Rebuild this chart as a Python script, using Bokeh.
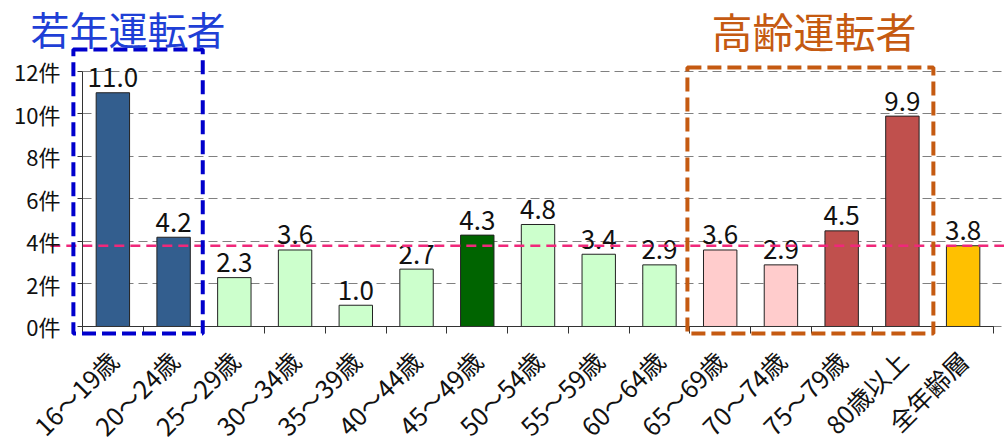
import math
from bokeh.plotting import figure
from bokeh.models import (Range1d, FixedTicker, BoxAnnotation, Label,
                          ColumnDataSource)
from bokeh.core.properties import value
from bokeh.embed import file_html
from bokeh.resources import INLINE

# ---------------- data ----------------
categories = ["16～19歳", "20～24歳", "25～29歳", "30～34歳", "35～39歳",
              "40～44歳", "45～49歳", "50～54歳", "55～59歳", "60～64歳",
              "65～69歳", "70～74歳", "75～79歳", "80歳以上", "全年齢層"]
values = [11.0, 4.2, 2.3, 3.6, 1.0, 2.7, 4.3, 4.8, 3.4, 2.9,
          3.6, 2.9, 4.5, 9.9, 3.8]
bar_colors = ["#335E8E", "#335E8E", "#CCFFCC", "#CCFFCC", "#CCFFCC",
              "#CCFFCC", "#006400", "#CCFFCC", "#CCFFCC", "#CCFFCC",
              "#FFCCCC", "#FFCCCC", "#C0504D", "#C0504D", "#FFC000"]
y_ticks = [0, 2, 4, 6, 8, 10, 12]
y_tick_labels = ["0件", "2件", "4件", "6件", "8件", "10件", "12件"]
average_all = 3.8
young_title = "若年運転者"
young_first, young_last = 0, 1
elderly_title = "高齢運転者"
elderly_first, elderly_last = 10, 13

FONT = "Noto Sans CJK JP"
n = len(categories)
xs = list(range(n))
src = ColumnDataSource(dict(x=xs, top=values, color=bar_colors,
                            label=[f"{v:.1f}" for v in values]))

X0, X1 = -1.8502, 14.6811
p = figure(width=1004, height=444,
           x_range=Range1d(X0, X1),
           y_range=Range1d(-5.553, 15.341),
           output_backend="svg", toolbar_location=None,
           min_border_left=0, min_border_right=0,
           min_border_top=0, min_border_bottom=0)
p.outline_line_color = None
p.background_fill_color = "white"

# grid
p.xgrid.visible = False
p.ygrid.ticker = FixedTicker(ticks=y_ticks)
p.ygrid.cross_bounds = (-0.5, X1)
p.ygrid.grid_line_color = "#808080"
p.ygrid.grid_line_dash = "9 5"
p.ygrid.grid_line_width = 1

# y axis
p.yaxis.fixed_location = -0.5
p.yaxis.ticker = FixedTicker(ticks=y_ticks)
p.yaxis.major_label_overrides = {t: l for t, l in zip(y_ticks, y_tick_labels)}
p.yaxis.bounds = (y_ticks[0], y_ticks[-1])
p.yaxis.major_tick_out = 5
p.yaxis.major_tick_in = 0
p.yaxis.minor_tick_line_color = None
p.yaxis.major_label_standoff = 17
p.yaxis.major_label_text_font = FONT
p.yaxis.major_label_text_font_size = "22px"
p.yaxis.major_label_text_color = "#111111"
p.yaxis.axis_line_color = "#333333"
p.yaxis.major_tick_line_color = "#333333"

# x axis
p.xaxis.fixed_location = 0
p.xaxis.bounds = (-0.5, n - 0.5)
p.xaxis.ticker = FixedTicker(ticks=xs, minor_ticks=[i - 0.5 for i in range(n + 1)])
p.xaxis.major_label_overrides = {i: c for i, c in zip(xs, categories)}
p.xaxis.major_label_orientation = math.pi / 4
p.xaxis.major_tick_line_color = None
p.xaxis.major_tick_out = 0
p.xaxis.major_tick_in = 0
p.xaxis.minor_tick_out = 7
p.xaxis.minor_tick_in = 0
p.xaxis.minor_tick_line_color = "#333333"
p.xaxis.axis_line_color = "#333333"
p.xaxis.major_label_standoff = 22
p.xaxis.major_label_text_font = FONT
p.xaxis.major_label_text_font_size = "25px"
p.xaxis.major_label_text_color = "#111111"

# bars
p.vbar(x="x", top="top", width=0.55, fill_color="color", line_color="#222222",
       line_width=1, source=src)

# value labels
p.text(x="x", y="top", text="label", source=src, text_align="center",
       text_baseline="alphabetic", y_offset=-15,
       text_font=value(FONT), text_font_size="26px", text_color="#111111")

# average line
p.segment(x0=[-1.03], x1=[X1], y0=[average_all], y1=[average_all],
          line_color="#F0287A", line_dash="10 6", line_width=2.5)

# group boxes
p.add_layout(BoxAnnotation(left=young_first - 0.65, right=young_last + 0.48,
                           bottom=-0.33, top=13.03,
                           fill_alpha=0, line_alpha=1.0, line_color="#0000CC",
                           line_width=4, line_dash="14 6"))
p.add_layout(BoxAnnotation(left=elderly_first - 0.54, right=elderly_last + 0.51,
                           bottom=-0.33, top=12.19,
                           fill_alpha=0, line_alpha=1.0, line_color="#C55A11",
                           line_width=4, line_dash="14 6"))

# group titles
p.add_layout(Label(x=young_first - 1.356, y=14.024, text=young_title,
                   text_font=FONT, text_font_size="39px", text_color="#1F3FD6",
                   text_align="left", text_baseline="middle"))
p.add_layout(Label(x=(elderly_first + elderly_last) / 2 + 0.044, y=13.976, text=elderly_title,
                   text_font=FONT, text_font_size="41px", text_color="#C55A11",
                   text_align="center", text_baseline="middle"))

open("out.html", "w").write(file_html(p, INLINE))
